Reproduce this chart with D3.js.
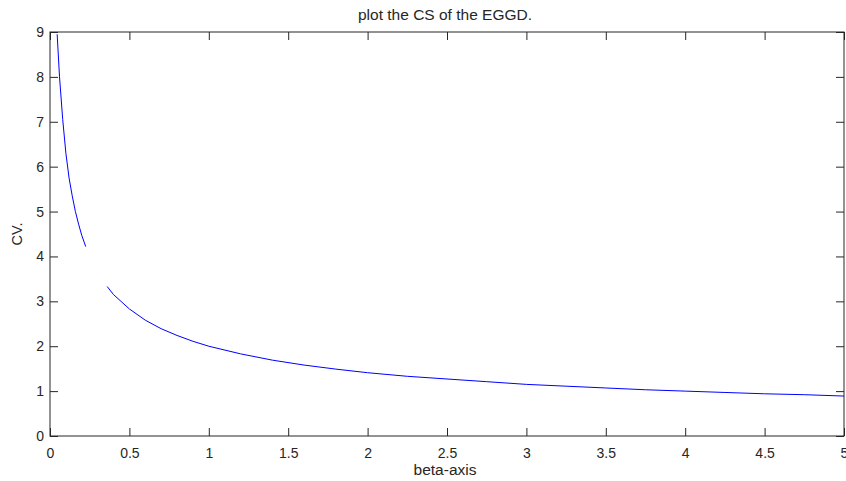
<!DOCTYPE html>
<html>
<head>
<meta charset="utf-8">
<script src="https://cdn.jsdelivr.net/npm/d3@7"></script>
<style>
  body { margin: 0; background: #fff; }
  text { font-family: Arial, "Liberation Sans", sans-serif; fill: #262626; }
</style>
</head>
<body>
<script>
const width = 846;
const height = 481;

// two pieces of the curve, there is a gap between them
const beta1 = [0.045, 0.06, 0.08, 0.1, 0.12, 0.14, 0.16, 0.18, 0.2, 0.225];
const cv1 = [8.95, 8.0, 7.05, 6.3, 5.75, 5.35, 5.0, 4.72, 4.47, 4.22];

const beta2 = [0.36, 0.4, 0.5, 0.6, 0.7, 0.8, 0.9, 1.0, 1.2, 1.4, 1.6, 1.8, 2.0, 2.25, 2.5, 2.75, 3.0, 3.25, 3.5, 3.75, 4.0, 4.25, 4.5, 4.75, 5.0];
const cv2 = [3.33, 3.15, 2.83, 2.58, 2.39, 2.24, 2.11, 2.0, 1.83, 1.69, 1.58, 1.49, 1.41, 1.33, 1.27, 1.21, 1.15, 1.11, 1.07, 1.03, 1.0, 0.97, 0.94, 0.92, 0.89];

const xTicks = [0, 0.5, 1, 1.5, 2, 2.5, 3, 3.5, 4, 4.5, 5];
const yTicks = [0, 1, 2, 3, 4, 5, 6, 7, 8, 9];

const margin = {top: 32, right: 2, bottom: 45, left: 50};
const w = width - margin.left - margin.right;
const h = height - margin.top - margin.bottom;

const svg = d3.select('body').append('svg').attr('width', width).attr('height', height);
const g = svg.append('g').attr('transform', `translate(${margin.left},${margin.top})`);

const x = d3.scaleLinear().domain([0, 5]).range([0, w]);
const y = d3.scaleLinear().domain([0, 9]).range([h, 0]);

// ticks pointing inward on all four sides
g.append('g').attr('transform', `translate(0,${h})`)
  .call(d3.axisBottom(x).tickValues(xTicks).tickSize(-8).tickPadding(12).tickFormat(d3.format('')))
  .call(a => a.select('.domain').remove());
g.append('g')
  .call(d3.axisTop(x).tickValues(xTicks).tickSize(-8).tickFormat(''))
  .call(a => a.select('.domain').remove());
g.append('g')
  .call(d3.axisLeft(y).tickValues(yTicks).tickSize(-8).tickPadding(6).tickFormat(d3.format('')))
  .call(a => a.select('.domain').remove());
g.append('g').attr('transform', `translate(${w},0)`)
  .call(d3.axisRight(y).tickValues(yTicks).tickSize(-8).tickFormat(''))
  .call(a => a.select('.domain').remove());

g.selectAll('.tick line').attr('stroke', '#262626');
g.selectAll('.tick text').style('font-size', '14px').attr('fill', '#262626');

g.append('rect')
  .attr('width', w).attr('height', h)
  .attr('fill', 'none').attr('stroke', '#262626').attr('stroke-width', 1);

const line = d3.line().x(d => x(d[0])).y(d => y(d[1]));
const pieces = [d3.zip(beta1, cv1), d3.zip(beta2, cv2)];
g.selectAll('path.curve')
  .data(pieces)
  .enter()
  .append('path')
  .attr('class', 'curve')
  .attr('d', line)
  .attr('fill', 'none')
  .attr('stroke', '#0000ff')
  .attr('stroke-width', 1);

svg.append('text')
  .attr('x', margin.left + w / 2 - 2).attr('y', 20)
  .attr('text-anchor', 'middle').style('font-size', '15.5px')
  .text('plot the CS of the EGGD.');

svg.append('text')
  .attr('x', margin.left + w / 2 - 2).attr('y', 475)
  .attr('text-anchor', 'middle').style('font-size', '15.5px')
  .text('beta-axis');

svg.append('text')
  .attr('transform', `translate(22,${margin.top + h / 2}) rotate(-90)`)
  .attr('text-anchor', 'middle').style('font-size', '14.5px')
  .text('CV.');
</script>
</body>
</html>
